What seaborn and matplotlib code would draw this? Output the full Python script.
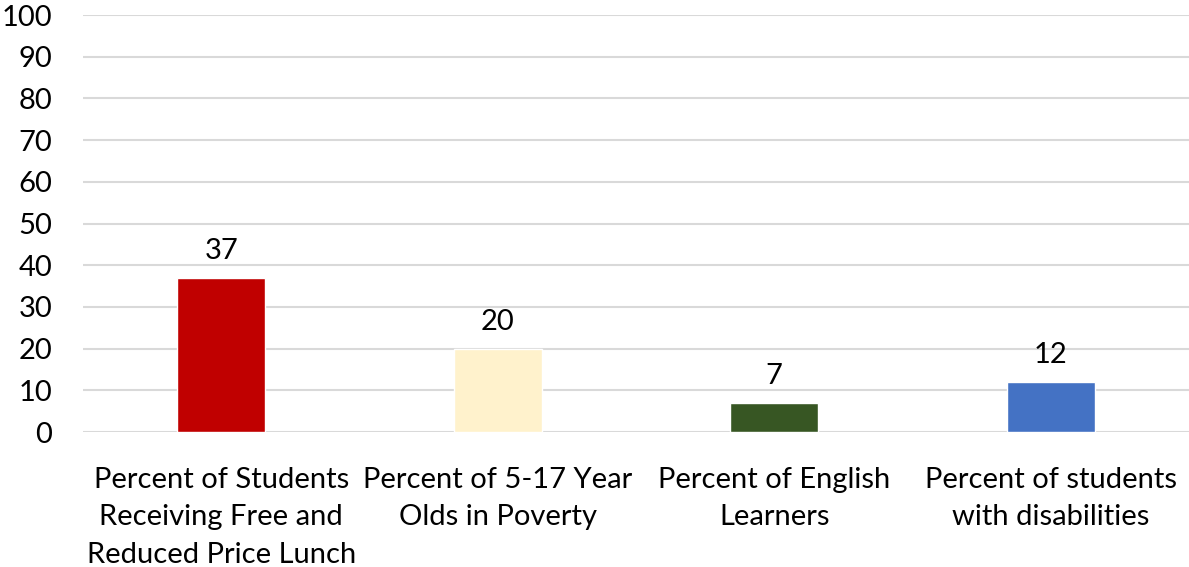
import numpy as np
import pandas as pd
import matplotlib
matplotlib.use('Agg')
import matplotlib.pyplot as plt
import seaborn as sns

CATEGORIES = ['Percent of Students\nReceiving Free and\nReduced Price Lunch',
              'Percent of 5-17 Year\nOlds in Poverty',
              'Percent of English\nLearners',
              'Percent of students\nwith disabilities']
VALUES = [37, 20, 7, 12]
COLOURS = ['#C00000', '#FFF2CC', '#375623', '#4472C4']

sns.set_style('white')
plt.rcParams['font.family'] = ['Lato', 'DejaVu Sans']
plt.rcParams['text.color'] = 'black'
plt.rcParams['xtick.color'] = 'black'
plt.rcParams['ytick.color'] = 'black'

df = pd.DataFrame({'cat': CATEGORIES, 'val': VALUES})

fig = plt.figure(figsize=(11.89, 5.67), dpi=100)
ax = fig.add_axes([0.0698, 0.238, 0.9302, 0.7355])
sns.barplot(data=df, x='cat', y='val', hue='cat', palette=COLOURS,
            saturation=1, width=0.32, legend=False, ax=ax, zorder=3)

ax.set_ylim(0, 100)
ax.set_yticks(np.arange(0, 101, 10))
ax.grid(axis='y', color='#D9D9D9', linewidth=1.5, zorder=0)
ax.set_axisbelow(True)
for s in ax.spines.values():
    s.set_visible(False)
ax.set_xlabel('')
ax.set_ylabel('')
ax.tick_params(axis='y', length=0, pad=22, labelsize=21)
ax.tick_params(axis='x', length=0, pad=25, labelsize=21)
for lab in ax.get_xticklabels():
    lab.set_linespacing(1.55)

for i, v in enumerate(VALUES):
    ax.annotate(f'{v}', (i, v), xytext=(0, 10), textcoords='offset points',
                ha='center', va='bottom', fontsize=21)

fig.savefig('out.png', dpi=100)
plt.close('all')
